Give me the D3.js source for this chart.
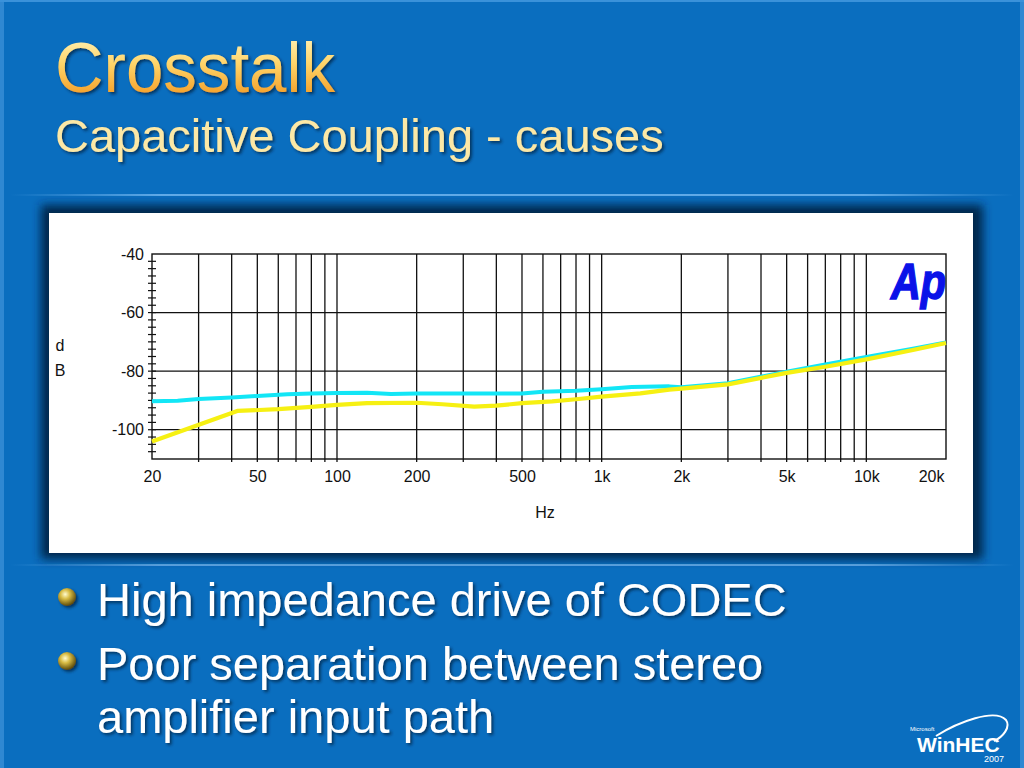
<!DOCTYPE html>
<html lang="en">
<head>
  <meta charset="UTF-8">
  <title>Crosstalk - Capacitive Coupling</title>
  <script src="https://d3js.org/d3.v7.min.js"></script>
  <style>
    body { margin: 0; background: #0a6ebf; }
    svg { display: block; }
  </style>
</head>
<body>
  <svg width="1024" height="768"></svg>

  <script>
    // measured crosstalk curves (Hz, dB)
    const cyanFreq = [20, 25, 30, 40, 50, 65, 80, 100, 130, 160, 200, 300, 500, 600, 800, 1000, 1300, 1800, 2000, 3000, 5000, 7000, 10000, 15000, 20000];
    const cyanDb   = [-90.3, -90.1, -89.5, -89.0, -88.5, -87.9, -87.6, -87.5, -87.4, -87.8, -87.6, -87.6, -87.6, -87.0, -86.7, -86.2, -85.4, -85.2, -85.5, -84.1, -80.2, -77.7, -75.2, -72.3, -70.2];

    const yellowFreq = [20, 42, 60, 80, 100, 130, 200, 250, 330, 400, 500, 650, 800, 1000, 1400, 1800, 2000, 3000, 5000, 7000, 10000, 15000, 20000];
    const yellowDb   = [-104, -93.6, -93.0, -92.2, -91.5, -90.9, -90.8, -91.3, -92.1, -91.8, -90.9, -90.3, -89.6, -88.7, -87.6, -86.3, -86.0, -84.5, -80.6, -78.5, -76.0, -72.8, -70.4];

    const xTickValues = [20, 50, 100, 200, 500, 1000, 2000, 5000, 10000, 20000];
    const xTickLabels = ["20", "50", "100", "200", "500", "1k", "2k", "5k", "10k", "20k"];
    const yTickValues = [-40, -60, -80, -100];
    const yTickLabels = ["-40", "-60", "-80", "-100"];

    const bullets = [
      ["High impedance drive of CODEC"],
      ["Poor separation between stereo", "amplifier input path"]
    ];

    const svg = d3.select("svg");
    const defs = svg.append("defs");

    // ---- slide background ----
    svg.append("rect").attr("width", 1024).attr("height", 768).attr("fill", "#0a6ebf");
    svg.append("rect").attr("width", 4).attr("height", 768).attr("fill", "#2f88d2");
    svg.append("rect").attr("x", 1020).attr("width", 4).attr("height", 768).attr("fill", "#2f88d2");
    svg.append("rect").attr("width", 1024).attr("height", 2).attr("fill", "#3a92da");

    const shadow = defs.append("filter").attr("id", "txtShadow")
      .attr("x", "-10%").attr("y", "-20%").attr("width", "130%").attr("height", "150%");
    shadow.append("feDropShadow").attr("dx", 2).attr("dy", 2).attr("stdDeviation", 1.5)
      .attr("flood-color", "#00203f").attr("flood-opacity", 0.75);

    const blur = defs.append("filter").attr("id", "blur")
      .attr("x", "-10%").attr("y", "-10%").attr("width", "120%").attr("height", "120%");
    blur.append("feGaussianBlur").attr("stdDeviation", 5);

    const titleGrad = defs.append("linearGradient").attr("id", "titleGrad")
      .attr("x1", 0).attr("y1", 0).attr("x2", 0).attr("y2", 1);
    titleGrad.append("stop").attr("offset", "0%").attr("stop-color", "#fff8c8");
    titleGrad.append("stop").attr("offset", "45%").attr("stop-color", "#ffd468");
    titleGrad.append("stop").attr("offset", "100%").attr("stop-color", "#f08c12");

    const lineGrad = defs.append("linearGradient").attr("id", "lineGrad");
    lineGrad.append("stop").attr("offset", "0%").attr("stop-color", "#6ab2ee").attr("stop-opacity", 0);
    lineGrad.append("stop").attr("offset", "15%").attr("stop-color", "#6ab2ee").attr("stop-opacity", 0.9);
    lineGrad.append("stop").attr("offset", "85%").attr("stop-color", "#6ab2ee").attr("stop-opacity", 0.9);
    lineGrad.append("stop").attr("offset", "100%").attr("stop-color", "#6ab2ee").attr("stop-opacity", 0);

    const ball = defs.append("radialGradient").attr("id", "ball")
      .attr("cx", "40%").attr("cy", "35%").attr("r", "65%");
    ball.append("stop").attr("offset", "0%").attr("stop-color", "#fffbd0");
    ball.append("stop").attr("offset", "40%").attr("stop-color", "#d8bc44");
    ball.append("stop").attr("offset", "100%").attr("stop-color", "#5c4a0c");

    // title
    svg.append("text")
      .attr("x", 55).attr("y", 92)
      .attr("font-family", "Liberation Sans, Arial, sans-serif")
      .attr("font-size", 70)
      .attr("textLength", 280).attr("lengthAdjust", "spacingAndGlyphs")
      .attr("fill", "url(#titleGrad)")
      .attr("filter", "url(#txtShadow)")
      .text("Crosstalk");

    svg.append("text")
      .attr("x", 55).attr("y", 152)
      .attr("font-family", "Liberation Sans, Arial, sans-serif")
      .attr("font-size", 47)
      .attr("fill", "#fce8a6")
      .attr("filter", "url(#txtShadow)")
      .text("Capacitive Coupling - causes");

    // separator lines
    svg.append("rect").attr("x", 10).attr("y", 194).attr("width", 1004).attr("height", 2).attr("fill", "url(#lineGrad)");
    svg.append("rect").attr("x", 10).attr("y", 564).attr("width", 1004).attr("height", 2).attr("fill", "url(#lineGrad)");

    // chart panel with dark glow
    svg.append("rect").attr("x", 41).attr("y", 205).attr("width", 942).attr("height", 354)
      .attr("fill", "#06284c").attr("filter", "url(#blur)");
    svg.append("rect").attr("x", 49).attr("y", 213).attr("width", 924).attr("height", 340)
      .attr("fill", "#ffffff");

    // ---- chart ----
    const x = d3.scaleLog().domain([20, 20000]).range([152, 946]);
    const y = d3.scaleLinear().domain([-110, -40]).range([459, 254]);

    const chart = svg.append("g");

    // vertical grid (decade subdivisions up to 10k)
    const gridFreqs = x.ticks().filter(f => f > 20 && f <= 10000);
    chart.selectAll(".vgrid").data(gridFreqs).enter().append("line")
      .attr("x1", d => x(d)).attr("x2", d => x(d))
      .attr("y1", y(-40)).attr("y2", y(-110) + 3)
      .attr("stroke", "#111").attr("stroke-width", 1.3);

    chart.selectAll(".hgrid").data(yTickValues.slice(1)).enter().append("line")
      .attr("x1", x(20)).attr("x2", x(20000))
      .attr("y1", d => y(d)).attr("y2", d => y(d))
      .attr("stroke", "#111").attr("stroke-width", 1.3);

    // minor ticks on left axis
    chart.selectAll(".ytick").data(d3.range(-107.5, -40, 2.5)).enter().append("line")
      .attr("x1", x(20) - 4).attr("x2", x(20) + 4)
      .attr("y1", d => y(d)).attr("y2", d => y(d))
      .attr("stroke", "#111").attr("stroke-width", 1.2);

    chart.append("rect")
      .attr("x", x(20)).attr("y", y(-40))
      .attr("width", x(20000) - x(20)).attr("height", y(-110) - y(-40))
      .attr("fill", "none").attr("stroke", "#111").attr("stroke-width", 1.4);

    // axes
    const xAxis = chart.append("g")
      .attr("transform", `translate(0,${y(-110) + 8})`)
      .call(d3.axisBottom(x).tickValues(xTickValues)
        .tickFormat((d, i) => xTickLabels[i]).tickSize(0).tickPadding(4));
    xAxis.select(".domain").remove();
    xAxis.selectAll("text")
      .attr("font-family", "Liberation Sans, Arial, sans-serif")
      .attr("font-size", 16).attr("fill", "#111");
    // last label sits inside the right edge
    xAxis.selectAll(".tick").filter(d => d === 20000).select("text")
      .attr("text-anchor", "end").attr("dx", -2);

    const yAxis = chart.append("g")
      .attr("transform", `translate(${x(20) - 8},0)`)
      .call(d3.axisLeft(y).tickValues(yTickValues)
        .tickFormat((d, i) => yTickLabels[i]).tickSize(0).tickPadding(0));
    yAxis.select(".domain").remove();
    yAxis.selectAll("text")
      .attr("font-family", "Liberation Sans, Arial, sans-serif")
      .attr("font-size", 16).attr("fill", "#111");

    chart.append("text").attr("x", 545).attr("y", 518)
      .attr("text-anchor", "middle")
      .attr("font-family", "Liberation Sans, Arial, sans-serif")
      .attr("font-size", 16).attr("fill", "#111").text("Hz");
    chart.append("text").attr("x", 60).attr("y", 351)
      .attr("text-anchor", "middle")
      .attr("font-family", "Liberation Sans, Arial, sans-serif")
      .attr("font-size", 16).attr("fill", "#111").text("d");
    chart.append("text").attr("x", 60).attr("y", 376)
      .attr("text-anchor", "middle")
      .attr("font-family", "Liberation Sans, Arial, sans-serif")
      .attr("font-size", 16).attr("fill", "#111").text("B");

    // Ap logo
    chart.append("text").attr("x", 891).attr("y", 299)
      .attr("font-family", "Liberation Sans, Arial, sans-serif")
      .attr("font-size", 50).attr("font-weight", "bold").attr("font-style", "italic")
      .attr("textLength", 55).attr("lengthAdjust", "spacingAndGlyphs")
      .attr("fill", "#0a12e8").attr("stroke", "#0a12e8").attr("stroke-width", 1.5)
      .text("Ap");

    // curves
    const line = d3.line()
      .x(d => x(d[0]))
      .y(d => y(d[1]));

    const cyanPts = cyanFreq.map((f, i) => [f, cyanDb[i]]);
    const yellowPts = yellowFreq.map((f, i) => [f, yellowDb[i]]);

    chart.append("path").datum(cyanPts)
      .attr("d", line).attr("fill", "none")
      .attr("stroke", "#12e6f6").attr("stroke-width", 4)
      .attr("stroke-linejoin", "round");

    chart.append("path").datum(yellowPts)
      .attr("d", line).attr("fill", "none")
      .attr("stroke", "#f6f012").attr("stroke-width", 4.2)
      .attr("stroke-linejoin", "round");

    // ---- bullets ----
    let by = 616;
    bullets.forEach(lines => {
      svg.append("circle").attr("cx", 67).attr("cy", by - 19).attr("r", 9)
        .attr("fill", "url(#ball)")
        .attr("filter", "url(#txtShadow)");
      lines.forEach((t, j) => {
        svg.append("text")
          .attr("x", 97).attr("y", by + j * 53)
          .attr("font-family", "Liberation Sans, Arial, sans-serif")
          .attr("font-size", 47).attr("fill", "#ffffff")
          .attr("filter", "url(#txtShadow)")
          .text(t);
      });
      by += (lines.length - 1) * 53 + 64;
    });

    // ---- WinHEC logo ----
    const logo = svg.append("g").attr("fill", "#ffffff")
      .attr("font-family", "Liberation Sans, Arial, sans-serif");
    logo.append("text").attr("x", 910).attr("y", 731).attr("font-size", 6).text("Microsoft");
    logo.append("text").attr("x", 917).attr("y", 752).attr("font-size", 21)
      .attr("font-weight", "bold").text("WinHEC");
    logo.append("text").attr("x", 984).attr("y", 762).attr("font-size", 9).text("2007");
    logo.append("path")
      .attr("d", "M 936 736 C 958 722, 995 708, 1006 720 C 1011 727, 1003 737, 994 741")
      .attr("fill", "none").attr("stroke", "#ffffff").attr("stroke-width", 2);
  </script>
</body>
</html>
